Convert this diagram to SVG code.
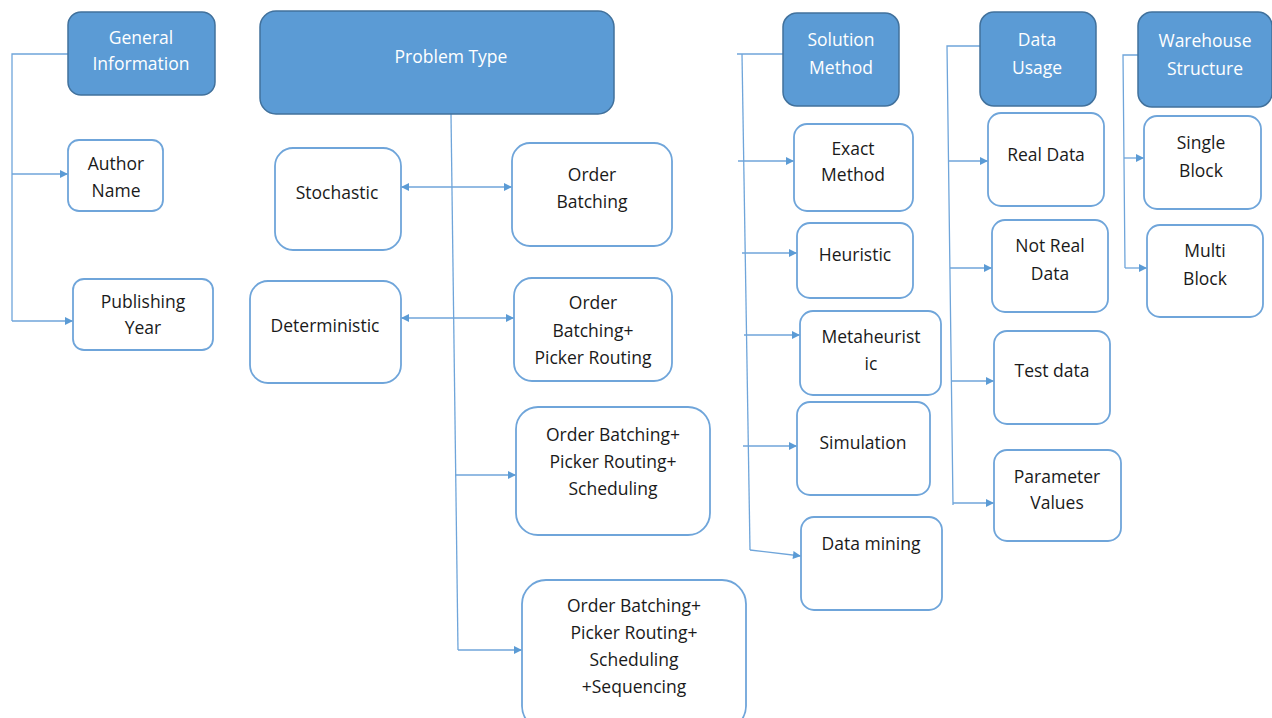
<svg xmlns="http://www.w3.org/2000/svg" width="1272" height="718" viewBox="0 0 1272 718">
<defs>
<marker id="arr" viewBox="0 0 10 10" refX="10" refY="5" markerWidth="9" markerHeight="8" markerUnits="userSpaceOnUse" orient="auto-start-reverse">
<path d="M0,0 L10,5 L0,10 Z" fill="#5b9bd5"/>
</marker>
</defs>
<style>
.hdr{fill:#5b9bd5;stroke:#41719c;stroke-width:1.5}
.box{fill:#ffffff;stroke:#6fa5da;stroke-width:1.8}
.ht{font-family:"Open Sans","Liberation Sans",sans-serif;font-size:17.5px;fill:#ffffff;text-anchor:middle}
.bt{font-family:"Open Sans","Liberation Sans",sans-serif;font-size:17.5px;fill:#1a1a1a;text-anchor:middle}
.cn{fill:none;stroke:#6fa5da;stroke-width:1.3}
</style>
<rect width="1272" height="718" fill="#ffffff"/>

<g id="connectors">
<polyline class="cn" points="68,54 12,54 12,321"/>
<line class="cn" x1="12" y1="174" x2="68" y2="174" marker-end="url(#arr)"/>
<line class="cn" x1="12" y1="321" x2="73" y2="321" marker-end="url(#arr)"/>

<polyline class="cn" points="451,114 458,650"/>
<line class="cn" x1="401" y1="187" x2="512" y2="187" marker-start="url(#arr)" marker-end="url(#arr)"/>
<line class="cn" x1="401" y1="318" x2="514" y2="318" marker-start="url(#arr)" marker-end="url(#arr)"/>
<line class="cn" x1="455" y1="475" x2="516" y2="475" marker-end="url(#arr)"/>
<line class="cn" x1="458" y1="650" x2="522" y2="650" marker-end="url(#arr)"/>

<polyline class="cn" points="783,54 737,54"/>
<polyline class="cn" points="742,54 750,550"/>
<line class="cn" x1="738" y1="161" x2="794" y2="161" marker-end="url(#arr)"/>
<line class="cn" x1="742" y1="253" x2="797" y2="253" marker-end="url(#arr)"/>
<line class="cn" x1="744" y1="335" x2="800" y2="335" marker-end="url(#arr)"/>
<line class="cn" x1="743" y1="446" x2="797" y2="446" marker-end="url(#arr)"/>
<line class="cn" x1="750" y1="550" x2="801" y2="556" marker-end="url(#arr)"/>

<polyline class="cn" points="980,46 947,46 953,505"/>
<line class="cn" x1="949" y1="161" x2="988" y2="161" marker-end="url(#arr)"/>
<line class="cn" x1="950" y1="268" x2="992" y2="268" marker-end="url(#arr)"/>
<line class="cn" x1="951" y1="381" x2="994" y2="381" marker-end="url(#arr)"/>
<line class="cn" x1="953" y1="503" x2="994" y2="503" marker-end="url(#arr)"/>

<polyline class="cn" points="1138,55 1123,55 1125,268"/>
<line class="cn" x1="1124" y1="158" x2="1144" y2="158" marker-end="url(#arr)"/>
<line class="cn" x1="1125" y1="268" x2="1147" y2="268" marker-end="url(#arr)"/>
</g>

<g id="general-information">
<rect class="hdr" x="68" y="12" width="147" height="83" rx="13"/>
<text class="ht" x="141" y="44">General</text>
<text class="ht" x="141" y="70">Information</text>
</g>
<g id="author-name">
<rect class="box" x="68" y="140" width="95" height="71" rx="11"/>
<text class="bt" x="116" y="170">Author</text>
<text class="bt" x="116" y="197">Name</text>
</g>
<g id="publishing-year">
<rect class="box" x="73" y="279" width="140" height="71" rx="11"/>
<text class="bt" x="143" y="308">Publishing</text>
<text class="bt" x="143" y="334">Year</text>
</g>

<g id="problem-type">
<rect class="hdr" x="260" y="11" width="354" height="103" rx="16"/>
<text class="ht" x="451" y="63">Problem Type</text>
</g>
<g id="stochastic">
<rect class="box" x="275" y="148" width="126" height="102" rx="18"/>
<text class="bt" x="337" y="199">Stochastic</text>
</g>
<g id="order-batching">
<rect class="box" x="512" y="143" width="160" height="103" rx="18"/>
<text class="bt" x="592" y="181">Order</text>
<text class="bt" x="592" y="208">Batching</text>
</g>
<g id="deterministic">
<rect class="box" x="250" y="281" width="151" height="102" rx="18"/>
<text class="bt" x="325" y="332">Deterministic</text>
</g>
<g id="ob-pr">
<rect class="box" x="514" y="278" width="158" height="103" rx="18"/>
<text class="bt" x="593" y="309">Order</text>
<text class="bt" x="593" y="337">Batching+</text>
<text class="bt" x="593" y="364">Picker Routing</text>
</g>
<g id="ob-pr-s">
<rect class="box" x="516" y="407" width="194" height="128" rx="22"/>
<text class="bt" x="613" y="441">Order Batching+</text>
<text class="bt" x="613" y="468">Picker Routing+</text>
<text class="bt" x="613" y="495">Scheduling</text>
</g>
<g id="ob-pr-s-seq">
<rect class="box" x="522" y="580" width="224" height="150" rx="24"/>
<text class="bt" x="634" y="612">Order Batching+</text>
<text class="bt" x="634" y="639">Picker Routing+</text>
<text class="bt" x="634" y="666">Scheduling</text>
<text class="bt" x="634" y="693">+Sequencing</text>
</g>

<g id="solution-method">
<rect class="hdr" x="783" y="13" width="116" height="93" rx="14"/>
<text class="ht" x="841" y="46">Solution</text>
<text class="ht" x="841" y="74">Method</text>
</g>
<g id="exact-method">
<rect class="box" x="794" y="124" width="119" height="87" rx="13"/>
<text class="bt" x="853" y="155">Exact</text>
<text class="bt" x="853" y="181">Method</text>
</g>
<g id="heuristic">
<rect class="box" x="797" y="223" width="116" height="75" rx="13"/>
<text class="bt" x="855" y="261">Heuristic</text>
</g>
<g id="metaheuristic">
<rect class="box" x="800" y="311" width="141" height="84" rx="13"/>
<text class="bt" x="871" y="343">Metaheurist</text>
<text class="bt" x="871" y="370">ic</text>
</g>
<g id="simulation">
<rect class="box" x="797" y="402" width="133" height="93" rx="13"/>
<text class="bt" x="863" y="449">Simulation</text>
</g>
<g id="data-mining">
<rect class="box" x="801" y="517" width="141" height="93" rx="13"/>
<text class="bt" x="871" y="550">Data mining</text>
</g>

<g id="data-usage">
<rect class="hdr" x="980" y="12" width="116" height="94" rx="14"/>
<text class="ht" x="1037" y="46">Data</text>
<text class="ht" x="1037" y="74">Usage</text>
</g>
<g id="real-data">
<rect class="box" x="988" y="113" width="116" height="93" rx="13"/>
<text class="bt" x="1046" y="161">Real Data</text>
</g>
<g id="not-real-data">
<rect class="box" x="992" y="220" width="116" height="92" rx="13"/>
<text class="bt" x="1050" y="252">Not Real</text>
<text class="bt" x="1050" y="280">Data</text>
</g>
<g id="test-data">
<rect class="box" x="994" y="331" width="116" height="93" rx="13"/>
<text class="bt" x="1052" y="377">Test data</text>
</g>
<g id="parameter-values">
<rect class="box" x="994" y="450" width="127" height="91" rx="13"/>
<text class="bt" x="1057" y="483">Parameter</text>
<text class="bt" x="1057" y="509">Values</text>
</g>

<g id="warehouse-structure">
<rect class="hdr" x="1138" y="12" width="134" height="95" rx="14"/>
<text class="ht" x="1205" y="47">Warehouse</text>
<text class="ht" x="1205" y="75">Structure</text>
</g>
<g id="single-block">
<rect class="box" x="1144" y="116" width="117" height="93" rx="13"/>
<text class="bt" x="1201" y="149">Single</text>
<text class="bt" x="1201" y="177">Block</text>
</g>
<g id="multi-block">
<rect class="box" x="1147" y="225" width="116" height="92" rx="13"/>
<text class="bt" x="1205" y="257">Multi</text>
<text class="bt" x="1205" y="285">Block</text>
</g>
</svg>
